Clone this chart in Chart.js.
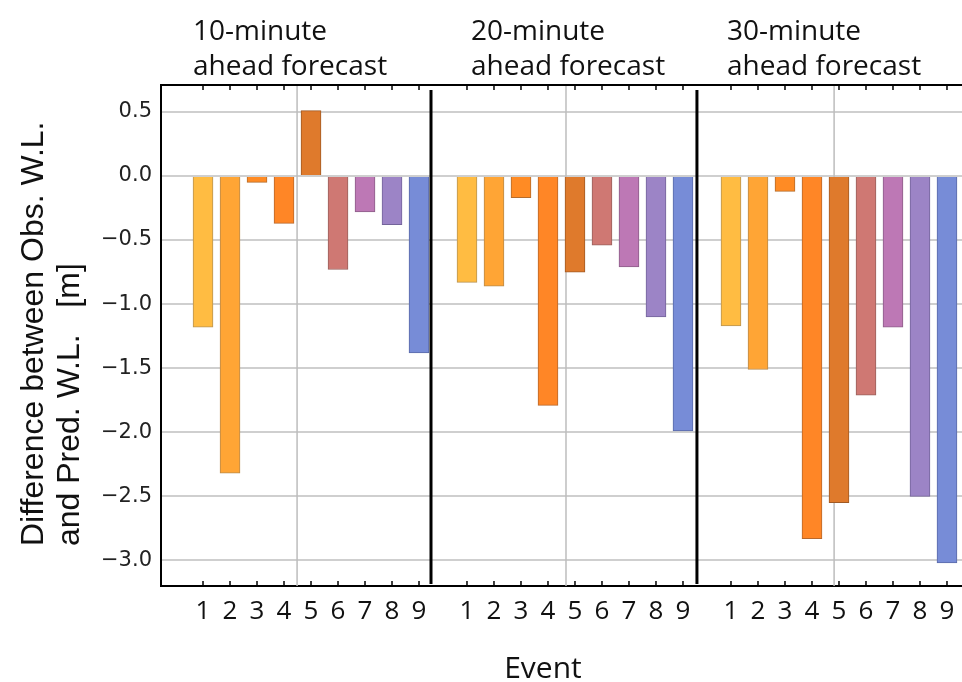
<!DOCTYPE html>
<html>
<head>
<meta charset="utf-8">
<script src="https://cdn.jsdelivr.net/npm/chart.js@4.4.0/dist/chart.umd.min.js"></script>
<style>
html, body { margin: 0; padding: 0; background: #fff; }
</style>
</head>
<body>
<canvas id="chart-area" width="962" height="682"></canvas>
<script>
// values (difference obs - pred water level, m)
var events = [1, 2, 3, 4, 5, 6, 7, 8, 9];
var horizons = ['10-minute', '20-minute', '30-minute'];
var diff10 = [-1.18, -2.32, -0.05, -0.37, 0.51, -0.73, -0.28, -0.38, -1.38];
var diff20 = [-0.83, -0.86, -0.17, -1.79, -0.75, -0.54, -0.71, -1.10, -1.99];
var diff30 = [-1.17, -1.51, -0.12, -2.83, -2.55, -1.71, -1.18, -2.50, -3.02];
var yTicks = [-3.0, -2.5, -2.0, -1.5, -1.0, -0.5, 0.0, 0.5];

// one colour per event
var eventColors = ['#ffbc42', '#ffa535', '#ff8b24', '#ff8626', '#df7a2c', '#cf7873', '#bd78b5', '#9c84c6', '#778cd7'];
var eventBorders = ['#b89454', '#b98a4c', '#b56c2c', '#b8682c', '#a05a24', '#98605c', '#8c5e88', '#73649a', '#5a6aa8'];

// layout along x, measured in bar slots
var panelStart = [1.556, 11.333, 21.111];
var dividers = [10.0, 19.85];
var midLines = [5.04, 15.0, 24.93];

var series = [diff10, diff20, diff30];
var points = [], colors = [], borders = [], tickPos = [];
series.forEach(function (vals, p) {
    vals.forEach(function (v, i) {
        var x = panelStart[p] + i;
        points.push({ x: x, y: v });
        colors.push(eventColors[i]);
        borders.push(eventBorders[i]);
        tickPos.push(x);
    });
});

// frame, dividers, ticks and titles (Mathematica look)
var framePlugin = {
    id: 'frame',
    beforeDatasetsDraw: function (chart) {
        var ctx = chart.ctx, a = chart.chartArea, xs = chart.scales.x;
        ctx.save();
        ctx.strokeStyle = '#bdbdbd';
        ctx.lineWidth = 1.5;
        midLines.forEach(function (m) {
            var px = xs.getPixelForValue(m);
            ctx.beginPath(); ctx.moveTo(px, a.top); ctx.lineTo(px, a.bottom); ctx.stroke();
        });
        ctx.restore();
    },
    afterDatasetsDraw: function (chart) {
        var ctx = chart.ctx, a = chart.chartArea, xs = chart.scales.x;
        ctx.save();
        ctx.strokeStyle = '#000';
        ctx.lineWidth = 2;
        ctx.beginPath(); ctx.moveTo(a.left, a.top); ctx.lineTo(a.right, a.top); ctx.stroke();
        ctx.lineWidth = 1.5;
        tickPos.forEach(function (t) {
            var px = xs.getPixelForValue(t);
            ctx.beginPath(); ctx.moveTo(px, a.top); ctx.lineTo(px, a.top + 5); ctx.stroke();
            ctx.beginPath(); ctx.moveTo(px, a.bottom); ctx.lineTo(px, a.bottom - 5); ctx.stroke();
        });
        ctx.lineWidth = 3;
        dividers.forEach(function (d) {
            var px = xs.getPixelForValue(d);
            ctx.beginPath(); ctx.moveTo(px, a.top + 5); ctx.lineTo(px, a.bottom - 2); ctx.stroke();
        });
        ctx.restore();
    },
    afterDraw: function (chart) {
        var ctx = chart.ctx;
        ctx.save();
        ctx.fillStyle = '#111';
        ctx.font = '28px "Open Sans"';
        ctx.textAlign = 'left';
        ctx.textBaseline = 'alphabetic';
        var tx = [193, 471, 727];
        horizons.forEach(function (h, i) {
            ctx.fillText(h, tx[i], 40);
            ctx.fillText('ahead forecast', tx[i], 75);
        });
        // axis titles
        ctx.font = '30px "Open Sans"';
        ctx.textAlign = 'center';
        ctx.fillText('Event', 543, 678);
        ctx.font = '32px "Liberation Sans"';
        ctx.textAlign = 'left';
        ctx.textBaseline = 'middle';
        ctx.translate(34, 546);
        ctx.rotate(-Math.PI / 2);
        ctx.fillText('Difference between Obs. W.L.', 0, 0);
        ctx.fillText('and Pred. W.L.   [m]', 0, 36);
        ctx.restore();
    }
};

var config = {
    type: 'bar',
    data: {
        datasets: [{
            data: points,
            backgroundColor: colors,
            borderColor: borders,
            borderWidth: 1,
            barThickness: 20
        }]
    },
    options: {
        responsive: false,
        animation: false,
        layout: { padding: { top: 85, left: 0, right: 0, bottom: 0 } },
        plugins: { legend: { display: false }, tooltip: { enabled: false } },
        scales: {
            x: {
                type: 'linear',
                offset: false,
                min: 0,
                max: 29.667,
                grid: { display: false, offset: false },
                border: { color: '#000', width: 2 },
                afterBuildTicks: function (scale) {
                    scale.ticks = tickPos.map(function (v) { return { value: v }; });
                },
                afterFit: function (scale) { scale.height = 96; },
                ticks: {
                    autoSkip: false,
                    maxRotation: 0,
                    padding: 2,
                    color: '#111',
                    font: { family: 'Open Sans', size: 26 },
                    callback: function (v, i) { return String(events[i % 9]); }
                }
            },
            y: {
                min: -3.2,
                max: 0.71,
                afterBuildTicks: function (scale) {
                    scale.ticks = yTicks.map(function (v) { return { value: v }; });
                },
                afterFit: function (scale) { scale.width = 161; },
                grid: { color: '#cfcfcf', lineWidth: 2, drawTicks: false },
                border: { color: '#000', width: 2 },
                ticks: {
                    padding: 9,
                    color: '#222',
                    font: { family: 'DejaVu Sans', size: 21 },
                    callback: function (v) { return v.toFixed(1).replace('-', '\u2212'); }
                }
            }
        }
    },
    plugins: [framePlugin]
};

window.onload = function () {
    var ctx = document.getElementById('chart-area').getContext('2d');
    window.myBar = new Chart(ctx, config);
};
</script>
</body>
</html>
